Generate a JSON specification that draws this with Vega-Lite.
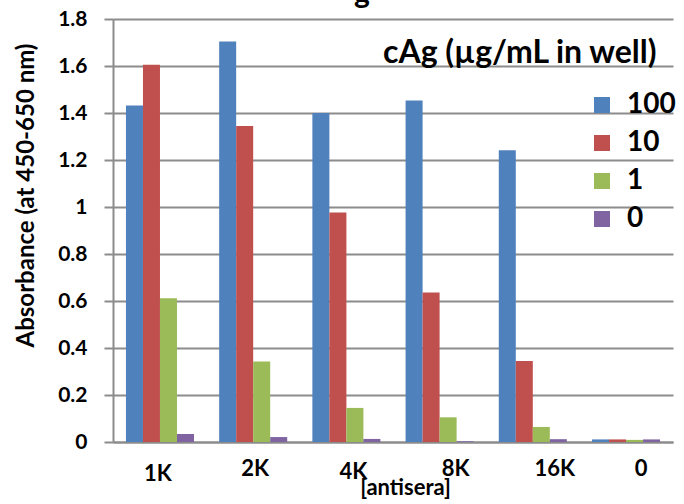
{
  "$schema": "https://vega.github.io/schema/vega-lite/v6.json",
  "width": 560,
  "height": 423,
  "autosize": "none",
  "padding": {"left": 113, "top": 19, "right": 11, "bottom": 62},
  "background": "white",
  "config": {"view": {"stroke": null}, "font": "Lato"},
  "title": {"text": "g", "fontSize": 30, "font": "Lato", "fontWeight": "bold", "color": "black", "offset": -1, "dx": -31, "anchor": "middle"},
  "data": {"values": [
    {"antisera": "1K", "cAg": "100", "abs": 1.432},
    {"antisera": "1K", "cAg": "10", "abs": 1.605},
    {"antisera": "1K", "cAg": "1", "abs": 0.612},
    {"antisera": "1K", "cAg": "0", "abs": 0.034},
    {"antisera": "2K", "cAg": "100", "abs": 1.704},
    {"antisera": "2K", "cAg": "10", "abs": 1.345},
    {"antisera": "2K", "cAg": "1", "abs": 0.343},
    {"antisera": "2K", "cAg": "0", "abs": 0.021},
    {"antisera": "4K", "cAg": "100", "abs": 1.4},
    {"antisera": "4K", "cAg": "10", "abs": 0.977},
    {"antisera": "4K", "cAg": "1", "abs": 0.145},
    {"antisera": "4K", "cAg": "0", "abs": 0.013},
    {"antisera": "8K", "cAg": "100", "abs": 1.453},
    {"antisera": "8K", "cAg": "10", "abs": 0.636},
    {"antisera": "8K", "cAg": "1", "abs": 0.105},
    {"antisera": "8K", "cAg": "0", "abs": 0.003},
    {"antisera": "16K", "cAg": "100", "abs": 1.242},
    {"antisera": "16K", "cAg": "10", "abs": 0.345},
    {"antisera": "16K", "cAg": "1", "abs": 0.064},
    {"antisera": "16K", "cAg": "0", "abs": 0.012},
    {"antisera": "0", "cAg": "100", "abs": 0.011},
    {"antisera": "0", "cAg": "10", "abs": 0.011},
    {"antisera": "0", "cAg": "1", "abs": 0.009},
    {"antisera": "0", "cAg": "0", "abs": 0.011}
  ]},
  "mark": {"type": "bar"},
  "encoding": {
    "x": {
      "field": "antisera", "type": "nominal",
      "sort": ["1K", "2K", "4K", "8K", "16K", "0"],
      "scale": {"paddingInner": 0.27, "paddingOuter": 0.139},
      "axis": {
        "title": "[antisera]",
        "titleFont": "Lato", "titleFontSize": 22, "titleFontWeight": "bold", "titleColor": "black",
        "titleX": 292, "titleY": 35, "titleBaseline": "top",
        "labelAngle": 0,
        "labelFont": "Lato", "labelFontSize": 22, "labelFontWeight": "bold", "labelColor": "black",
        "labelBaseline": "top",
        "labelPadding": {"condition": [{"test": "datum.value == '1K'", "value": 21}, {"test": "datum.value == '4K'", "value": 19}], "value": 16},
        "labelOffset": {"condition": [{"test": "datum.value == '1K'", "value": -2}, {"test": "datum.value == '2K'", "value": 2}, {"test": "datum.value == '4K'", "value": 7}, {"test": "datum.value == '8K'", "value": 16}, {"test": "datum.value == '16K'", "value": 22}], "value": 15},
        "ticks": false,
        "domainColor": "#8c8c8c", "domainWidth": 2,
        "grid": false
      }
    },
    "xOffset": {
      "field": "cAg", "type": "nominal",
      "sort": ["100", "10", "1", "0"],
      "scale": {"paddingInner": 0, "paddingOuter": 0}
    },
    "y": {
      "field": "abs", "type": "quantitative",
      "scale": {"domain": [0, 1.8], "nice": false, "zero": true},
      "axis": {
        "title": "Absorbance (at 450-650 nm)",
        "titleFont": "Lato", "titleFontSize": 24, "titleFontWeight": "bold", "titleColor": "black",
        "titleX": -75, "titleY": 176,
        "values": [0, 0.2, 0.4, 0.6, 0.8, 1, 1.2, 1.4, 1.6, 1.8],
        "format": "~g",
        "labelFont": "Lato", "labelFontSize": 21, "labelFontWeight": "bold", "labelColor": "black",
        "labelPadding": 17,
        "tickSize": 9, "tickColor": "#8c8c8c", "tickWidth": 2,
        "domainColor": "#8c8c8c", "domainWidth": 2,
        "grid": true, "gridColor": "#8c8c8c", "gridWidth": 2
      }
    },
    "color": {
      "field": "cAg", "type": "nominal",
      "scale": {"domain": ["100", "10", "1", "0"], "range": ["#4F81BD", "#C0504D", "#9BBB59", "#8064A2"]},
      "legend": {
        "title": "cAg (µg/mL in well)",
        "orient": "none", "legendX": 270, "legendY": 19,
        "padding": 0,
        "titleFont": "Lato", "titleFontSize": 32, "titleFontWeight": "bold", "titleColor": "black",
        "titleBaseline": "top", "titlePadding": 21, "titleLimit": 400,
        "symbolType": "square", "symbolSize": 256, "symbolStrokeWidth": 0, "symbolOffset": 205,
        "labelFont": "Lato", "labelFontSize": 28, "labelFontWeight": "bold", "labelColor": "black",
        "labelOffset": 11, "labelBaseline": "middle",
        "rowPadding": 10
      }
    }
  }
}
